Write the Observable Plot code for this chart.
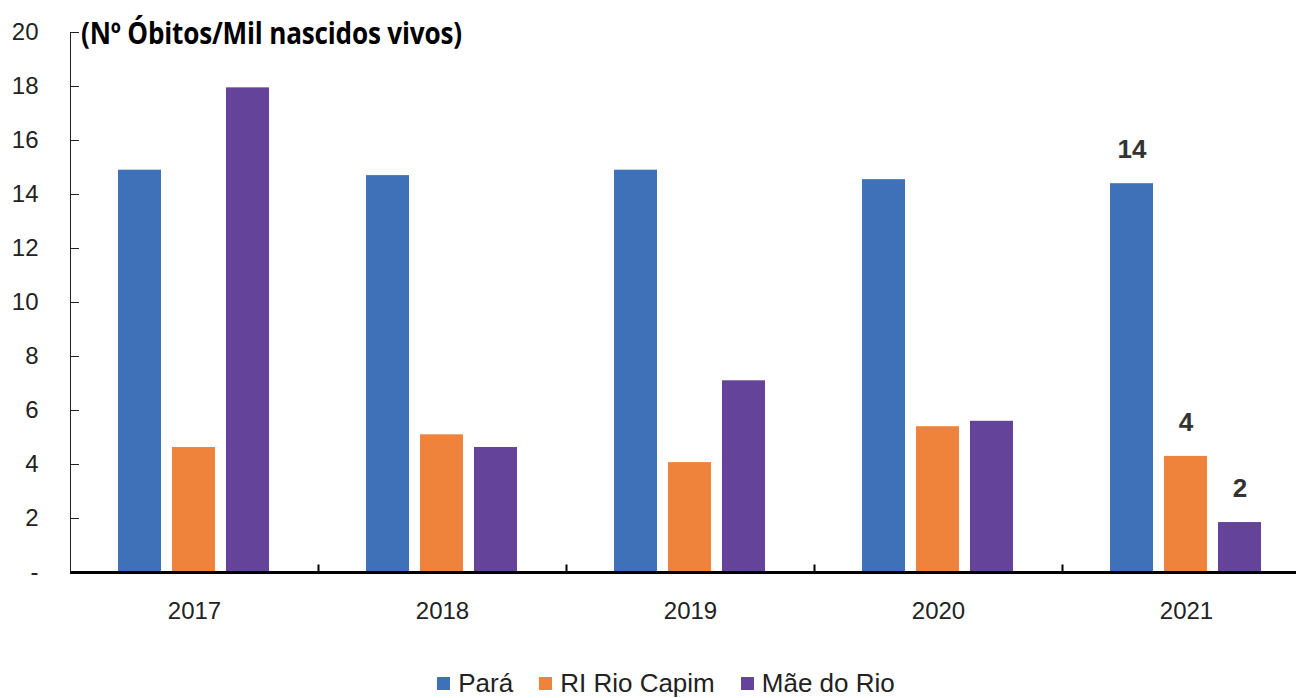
<!DOCTYPE html>
<html>
<head>
<meta charset="utf-8">
<script src="https://cdn.jsdelivr.net/npm/d3@7"></script>
<script src="https://cdn.jsdelivr.net/npm/@observablehq/plot@0.6"></script>
<style>
  html, body { margin: 0; padding: 0; background: #fff; }
  #wrap { position: relative; width: 1296px; }
  #title { position: absolute; left: 81px; top: 12px; font-family: "Open Sans", sans-serif; font-weight: 700; font-size: 30px; color: #000; white-space: nowrap; transform: scaleX(0.87); transform-origin: left top; letter-spacing: -0.2px; }
  #legend { display: flex; justify-content: center; align-items: center; gap: 0; font-family: "Liberation Sans Narrow", "Liberation Sans", Arial, sans-serif; font-size: 26px; color: #222; margin-top: 36px; padding-left: 36px; }
  .item { display: flex; align-items: center; margin: 0 13px; }
  .sw { width: 13px; height: 13px; display: inline-block; margin-right: 8px; }
  svg text { font-family: "Liberation Sans Narrow", "Liberation Sans", Arial, sans-serif; }
</style>
</head>
<body>
<div id="wrap">
  <div id="title">(Nº Óbitos/Mil nascidos vivos)</div>
  <div id="chart"></div>
  <div id="legend"></div>
</div>
<script>
const years = ["2017", "2018", "2019", "2020", "2021"];
const series = ["Pará", "RI Rio Capim", "Mãe do Rio"];
const colors = ["#3e71b8", "#f0833b", "#64439a"];
const para = [14.9, 14.7, 14.9, 14.55, 14.4];
const rioCapim = [4.63, 5.1, 4.07, 5.4, 4.3];
const maeDoRio = [17.95, 4.63, 7.1, 5.6, 1.85];
const yTicks = [0, 2, 4, 6, 8, 10, 12, 14, 16, 18, 20];
const labelledYear = "2021";

const seriesValues = [para, rioCapim, maeDoRio];
const data = [];
years.forEach((yr, i) => {
  series.forEach((s, j) => data.push({year: yr, series: s, value: seriesValues[j][i]}));
});

const chart = Plot.plot({
  width: 1296,
  height: 632,
  marginTop: 32,
  marginBottom: 60,
  marginLeft: 70,
  marginRight: 0,
  style: {fontSize: "24px", color: "#222", fontFamily: "'Liberation Sans Narrow', 'Liberation Sans', Arial, sans-serif"},
  fx: {domain: years, range: [70, 1310], padding: 0, label: null, tickSize: 0, tickPadding: 29},
  x: {domain: series, paddingInner: 0.2, paddingOuter: 0.86, axis: null},
  y: {
    domain: [0, 20], ticks: yTicks, tickSize: -9, tickPadding: 41, line: true,
    tickFormat: d => d === 0 ? "-" : String(d), label: null
  },
  color: {domain: series, range: colors},
  marks: [
    Plot.barY(data, {fx: "year", x: "series", y: "value", fill: "series"}),
    Plot.text(data.filter(d => d.year === labelledYear), {
      fx: "year", x: "series", y: "value",
      text: d => String(Math.round(d.value)),
      dy: -34, fontWeight: 700, fontSize: 26, fill: "#333", lineAnchor: "middle"
    }),
    Plot.ruleY([0], {stroke: "#000", strokeWidth: 3}),
    Plot.frame({anchor: "right", insetTop: 533, stroke: "#000", strokeWidth: 2})
  ]
});
document.getElementById("chart").appendChild(chart);

const legend = document.getElementById("legend");
series.forEach((s, i) => {
  const it = document.createElement("div");
  it.className = "item";
  const sw = document.createElement("span");
  sw.className = "sw";
  sw.style.background = colors[i];
  it.appendChild(sw);
  it.appendChild(document.createTextNode(s));
  legend.appendChild(it);
});
</script>
</body>
</html>
